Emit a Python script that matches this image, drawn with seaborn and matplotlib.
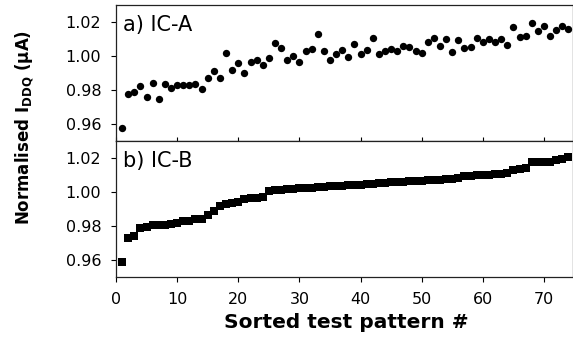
import numpy as np
import pandas as pd
import matplotlib
matplotlib.use("Agg")
import matplotlib.pyplot as plt
import seaborn as sns

# ---- data ----
pattern_a = list(range(1, 75))
idd_a = [0.9575, 0.9778, 0.9788, 0.9825, 0.9761, 0.9841, 0.9749, 0.9837, 0.9812, 0.9827,
         0.9827, 0.9827, 0.9833, 0.9804, 0.9869, 0.9912, 0.9869, 1.0020, 0.9920, 0.9959,
         0.9898, 0.9965, 0.9976, 0.9947, 0.9986, 1.0078, 1.0047, 0.9978, 1.0000, 0.9965,
         1.0029, 1.0043, 1.0131, 1.0031, 0.9978, 1.0012, 1.0037, 0.9994, 1.0073, 1.0010,
         1.0035, 1.0108, 1.0010, 1.0029, 1.0041, 1.0031, 1.0057, 1.0055, 1.0031, 1.0020,
         1.0080, 1.0106, 1.0057, 1.0098, 1.0024, 1.0092, 1.0047, 1.0053, 1.0108, 1.0084,
         1.0098, 1.0082, 1.0100, 1.0067, 1.0169, 1.0114, 1.0116, 1.0196, 1.0145, 1.0176,
         1.0116, 1.0155, 1.0178, 1.0157]

pattern_b = list(range(1, 75))
idd_b = [0.9588, 0.9727, 0.9741, 0.9788, 0.9792, 0.9804, 0.9806, 0.9808, 0.9812, 0.9816,
         0.9830, 0.9832, 0.9842, 0.9844, 0.9867, 0.9889, 0.9915, 0.9929, 0.9933, 0.9939,
         0.9956, 0.9962, 0.9966, 0.9970, 1.0004, 1.0010, 1.0014, 1.0017, 1.0020, 1.0022,
         1.0024, 1.0026, 1.0028, 1.0030, 1.0033, 1.0035, 1.0037, 1.0039, 1.0041, 1.0043,
         1.0045, 1.0050, 1.0052, 1.0054, 1.0056, 1.0058, 1.0060, 1.0062, 1.0064, 1.0066,
         1.0068, 1.0071, 1.0073, 1.0075, 1.0077, 1.0080, 1.0094, 1.0096, 1.0098, 1.0099,
         1.0101, 1.0103, 1.0105, 1.0110, 1.0128, 1.0136, 1.0141, 1.0174, 1.0175, 1.0175,
         1.0176, 1.0186, 1.0195, 1.0203]

x_ticks = [0, 10, 20, 30, 40, 50, 60, 70]
y_ticks = [0.96, 0.98, 1.00, 1.02]
panel_labels = ["a) IC-A", "b) IC-B"]
x_label = "Sorted test pattern #"

df_a = pd.DataFrame({"pattern": pattern_a, "idd": idd_a})
df_b = pd.DataFrame({"pattern": pattern_b, "idd": idd_b})

sns.set_style("ticks")
plt.rcParams["font.family"] = ["DejaVu Sans"]
plt.rcParams["text.color"] = "black"
plt.rcParams["xtick.color"] = "black"
plt.rcParams["ytick.color"] = "black"

fig = plt.figure(figsize=(5.73, 3.39), dpi=100)
ax1 = fig.add_axes([116 / 573, 1 - 141 / 339, 1 - 116 / 573 - 0.0005, 136 / 339])
ax2 = fig.add_axes([116 / 573, 1 - 277 / 339, 1 - 116 / 573 - 0.0005, 136 / 339])

sns.scatterplot(data=df_a, x="pattern", y="idd", ax=ax1, marker="o", s=28,
                color="black", edgecolor="black", linewidth=0, legend=False)
sns.scatterplot(data=df_b, x="pattern", y="idd", ax=ax2, marker="s", s=26,
                color="black", edgecolor="black", linewidth=0, legend=False)

for ax, lab in zip([ax1, ax2], panel_labels):
    ax.set_xlim(0, 74.7)
    ax.set_ylim(0.95, 1.03)
    ax.set_yticks(y_ticks)
    ax.set_yticklabels([f"{v:.2f}" for v in y_ticks])
    ax.set_xticks(x_ticks)
    ax.set_xlabel("")
    ax.set_ylabel("")
    for sp in ax.spines.values():
        sp.set_visible(True)
        sp.set_color("#222222")
        sp.set_linewidth(0.9)
    ax.tick_params(axis="y", direction="out", length=3.6, width=0.8, labelsize=11.5, pad=7,
                   colors="black")
    ax.text(0.015, 0.853, lab, transform=ax.transAxes, fontsize=15, va="center", ha="left")

ax1.tick_params(axis="x", direction="in", length=3, width=0.8, labelbottom=False)
ax2.tick_params(axis="x", direction="out", length=3.6, width=0.8, labelsize=11.5, pad=7)
ax2.set_xticklabels([str(t) for t in x_ticks])

fig.text(0.605, 0.05, x_label, ha="center", va="center", fontsize=14.5, fontweight="bold")
fig.text(0.042, 0.625, r"Normalised I$_{\mathregular{DDQ}}$ ($\mathregular{\mu}$A)",
         rotation=90, ha="center", va="center", fontsize=12, fontweight="bold")

fig.savefig("out.png", dpi=100)
